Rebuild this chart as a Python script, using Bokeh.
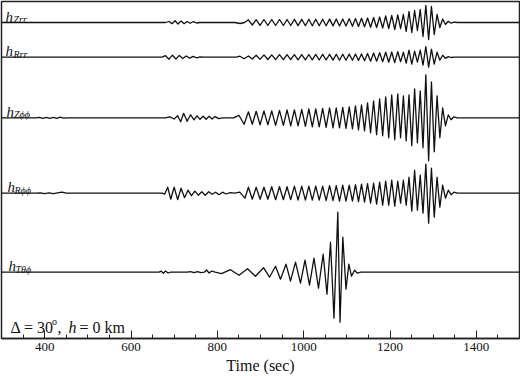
from bokeh.plotting import figure
from bokeh.models import Range1d, Label, FixedTicker
from bokeh.embed import file_html
from bokeh.resources import INLINE

# ---------------- data ----------------
# extrema times (s) of the dispersed Rayleigh-type train shared by the Z/R traces
rayleigh_t = [872, 881, 890, 899, 908, 917, 926, 935, 944, 953, 961.5, 970, 978.5, 987,
              995.5, 1004, 1012, 1020, 1028, 1036, 1044, 1052, 1060, 1068, 1075.5, 1083,
              1090.5, 1098, 1105.5, 1113, 1120, 1127, 1134, 1141, 1148, 1155, 1162, 1169,
              1176, 1183, 1190, 1197, 1204, 1211, 1218, 1224.5, 1231, 1237.5, 1244, 1250.5,
              1257, 1263.5, 1270, 1276.5, 1283, 1289.5, 1296, 1302.5, 1309, 1315.5, 1322,
              1328.5, 1335, 1341.5, 1348]

zrr_amp = [2.7, -2.5, 2.8, -2.8, 3, -3, 3, -3, 3, -3, 3, -3, 3.1, -3.1, 3.2, -3.2, 3.2, -3.2,
           3.3, -3.3, 3.3, -3.3, 3.4, -3.4, 3.5, -3.5, 3.5, -3.6, 3.7, -3.8, 4, -4, 4.2, -4.3,
           4.5, -4.8, 5, -5, 5.5, -5.5, 6.5, -6, 7, -7, 7.5, -6, 8, -9, 11, -10, 12, -8, 13,
           -14, 17, -17, 16, -12, 8, -5, 3.5, -2, 1.2, -0.7, 0.4]
rrr_amp = [1.2, -1.8, 2, -2.2, 2.3, -2.3, 2.4, -2.4, 2.5, -2.5, 2.5, -2.5, 2.6, -2.6, 2.6, -2.6,
           2.7, -2.7, 2.8, -2.8, 2.8, -2.8, 2.9, -2.9, 3, -3, 3, -3, 3.1, -3.1, 3.2, -3.2, 3.3,
           -3.5, 3.7, -4, 4.2, -4, 4.5, -4.5, 5, -5, 5.2, -5.5, 5.5, -4.5, 5, -6, 7, -7, 6, -5,
           7, -8, 10.5, -10, 8, -7, 5, -3, 2, -1.2, 0.6, -0.3, 0]
zpp_amp = [6, -6.5, 6.5, -7, 7, -7, 7, -7.5, 7.5, -7.5, 8, -8, 8, -8, 8.5, -8.5, 9, -9, 9, -9,
           9.5, -9.5, 10, -10, 10, -10, 10.5, -10.5, 11, -11, 12, -12, 13, -13, 15, -15, 17,
           -17, 19, -18, 21, -20, 23, -22, 24, -20, 22, -23, 23, -28, 29, -25, 27, -30, 43, -43,
           36, -34, 22, -20, 10, -8, 3, -2, 1]
rpp_amp = [6, -6, 6, -6, 6, -6, 6.5, -6.5, 6.5, -6.5, 6.5, -6.5, 7, -7, 7, -7, 7, -7, 7, -7, 7,
           -7.5, 7.5, -7.5, 7.5, -8, 8, -8, 8, -8, 8.5, -8.5, 9, -9, 9.5, -10, 10, -11, 11, -12,
           12, -12, 13, -13, 12, -10, 13, -12, 16, -18, 23, -17, 18, -20, 29, -30, 25, -24, 16,
           -14, 8, -5, 3, -1.5, 1]

# early, weaker arrivals of each Rayleigh-type trace
zrr_pre_t = [680, 688, 695, 702, 709, 716, 723, 730, 737, 744, 752, 760, 840, 853, 863]
zrr_pre_amp = [0, 1, -1.2, 1.8, -1.5, 1.6, -1.2, 1.0, -0.8, 0.8, -0.5, 0, 0, -1, 0]
rrr_pre_t = [672, 680, 688, 696, 704, 712, 720, 728, 736, 744, 752, 760, 768, 845, 852, 862]
rrr_pre_amp = [0, 1.5, -2, 2, -1.8, 1.8, -1.3, 1.2, -1, 0.8, -0.6, 0.4, 0, 0, 1, -1.5]
zpp_pre_t = [380, 388, 396, 404, 412, 420, 428, 436, 444, 452,
             680, 690, 700, 708, 715, 722, 730, 738, 746, 753, 760, 767, 774, 781, 788, 795,
             803, 812, 838, 850, 862]
zpp_pre_amp = [0, 0.5, -0.6, 0.5, -0.5, 0.4, -0.6, 0.7, -0.4, 0,
               0, 1, -1.2, 2, -4, 4.5, -3.5, 3, -2, 2, -1.5, 1.5, -1.5, 1.5, -1.2, 1.2,
               -0.8, 0, 0, 2.5, -6.5]
rpp_pre_t = [380, 390, 400, 410, 420, 430, 440, 450,
             672, 678, 685, 692, 700, 708, 716, 724, 732, 740, 748, 756, 764, 772, 780, 788,
             796, 804, 812, 820, 830, 840, 852, 864]
rpp_pre_amp = [0, 0.4, -0.4, 0.4, -0.5, 0.3, 1, 0,
               0, -1, 6, -6, 6, -6.5, 5, -4.5, 3, -2.5, 2, -2, 1.5, -2, 1.5, -1,
               1, -1.5, 1, -0.8, 0.5, 0, 1, -5]
rayleigh_end_t = 1356

# Love-type transverse trace
love_t = [665, 670, 675, 680, 686, 692, 730, 738, 746, 754, 762, 770, 775, 781, 787, 795,
          809.7, 830.5, 850.2, 869.9, 888.4, 907, 920.9, 934.8, 946.3, 959.1, 969.5, 981.1,
          992.6, 1003.1, 1013.5, 1023.9, 1034.3, 1045.2, 1054, 1062.2, 1070.2, 1079.1,
          1084.2, 1090.7, 1098.1, 1104.6, 1110.8, 1117.8, 1124.7, 1132]
love_amp = [0, 1, -1, 1.2, -0.8, 0, 0, 0.5, -0.5, 0.5, -0.5, 0, 2.2, -0.8, 1.2, 0,
            -1.5, 2.5, -3, 3.5, -4, 4.5, -5, 6, -7, 8, -9, 10,
            -11, 12, -13, 14, -16, 18, -22, 30, -46, 60,
            -50, 35, -17, 8, -4, 2, -1, 0]

t_start, t_end = 300, 1500
tick_values = [400, 600, 800, 1000, 1200, 1400]
trace_labels = [("Zrr", 22.0), ("Rrr", 56.7), ("Zϕϕ", 117.3), ("Rϕϕ", 192.7), ("Tθϕ", 271.7)]

# ---------------- figure ----------------
FW, FH = 518, 337
p = figure(frame_width=FW, frame_height=FH, output_backend="svg", toolbar_location=None,
           x_range=Range1d(t_start, t_end), y_range=Range1d(-FH - 1, -1),
           min_border_left=1, min_border_right=1, min_border_top=1, min_border_bottom=0)
p.background_fill_color = "white"
p.border_fill_color = "white"
p.outline_line_color = "#222222"
p.outline_line_width = 1.5
p.grid.visible = False
p.yaxis.visible = False

SERIF = "Liberation Serif"
ax = p.xaxis[0]
ax.ticker = FixedTicker(ticks=tick_values,
                        minor_ticks=list(range(350, 1500, 50)))
ax.axis_line_color = "#222222"
ax.axis_line_width = 1.5
ax.major_tick_in = 8
ax.major_tick_out = 0
ax.minor_tick_in = 4
ax.minor_tick_out = 0
ax.major_tick_line_color = "#222222"
ax.minor_tick_line_color = "#222222"
ax.major_label_text_font = SERIF
ax.major_label_text_font_size = "13px"
ax.major_label_text_color = "#111111"
ax.major_label_standoff = 4
ax.axis_label = "Time (sec)"
ax.axis_label_text_font = SERIF
ax.axis_label_text_font_style = "normal"
ax.axis_label_text_font_size = "16px"
ax.axis_label_text_color = "#111111"
ax.axis_label_standoff = 3


def build(pre_t, pre_a, main_t, main_a, end_t):
    ts = [t_start] + list(pre_t) + list(main_t) + ([end_t] if end_t else []) + [t_end]
    a = [0] + list(pre_a) + list(main_a) + ([0] if end_t else []) + [0]
    return ts, a


series = [
    build(zrr_pre_t, zrr_pre_amp, rayleigh_t, zrr_amp, rayleigh_end_t),
    build(rrr_pre_t, rrr_pre_amp, rayleigh_t, rrr_amp, rayleigh_end_t),
    build(zpp_pre_t, zpp_pre_amp, rayleigh_t, zpp_amp, rayleigh_end_t),
    build(rpp_pre_t, rpp_pre_amp, rayleigh_t, rpp_amp, rayleigh_end_t),
    build([], [], love_t, love_amp, None),
]

for (ts, a), (_, base) in zip(series, trace_labels):
    ys = [-base + v for v in a]
    p.line(ts, ys, line_color="#111111", line_width=1.3, line_join="round")

px_per_s = FW / (t_end - t_start)


def tx(px):
    return t_start + (px - 1) / px_per_s


label_x = [(5, 13), (5, 13), (6, 13.5), (7, 14), (8, 15)]
for (sub, base), (hx, sx) in zip(trace_labels, label_x):
    p.add_layout(Label(x=tx(hx), y=-(base - 6), text="h", text_font=SERIF,
                       text_font_style="italic", text_font_size="15px",
                       text_color="#111111", text_baseline="alphabetic"))
    p.add_layout(Label(x=tx(sx), y=-(base - 3), text=sub, text_font=SERIF,
                       text_font_style="italic", text_font_size="10px",
                       text_color="#111111", text_baseline="alphabetic"))

# annotation
ann_y = -327
p.add_layout(Label(x=tx(10), y=ann_y, text="Δ = 30", text_font=SERIF,
                   text_font_size="16px", text_color="#111111", text_baseline="alphabetic"))
p.add_layout(Label(x=tx(51.5), y=ann_y + 6, text="o", text_font=SERIF,
                   text_font_size="10px", text_color="#111111", text_baseline="alphabetic"))
p.add_layout(Label(x=tx(57), y=ann_y, text=",", text_font=SERIF,
                   text_font_size="16px", text_color="#111111", text_baseline="alphabetic"))
p.add_layout(Label(x=tx(68), y=ann_y, text="h", text_font=SERIF, text_font_style="italic",
                   text_font_size="16px", text_color="#111111", text_baseline="alphabetic"))
p.add_layout(Label(x=tx(79), y=ann_y, text="= 0 km", text_font=SERIF,
                   text_font_size="16px", text_color="#111111", text_baseline="alphabetic"))

open("out.html", "w").write(file_html(p, INLINE))
